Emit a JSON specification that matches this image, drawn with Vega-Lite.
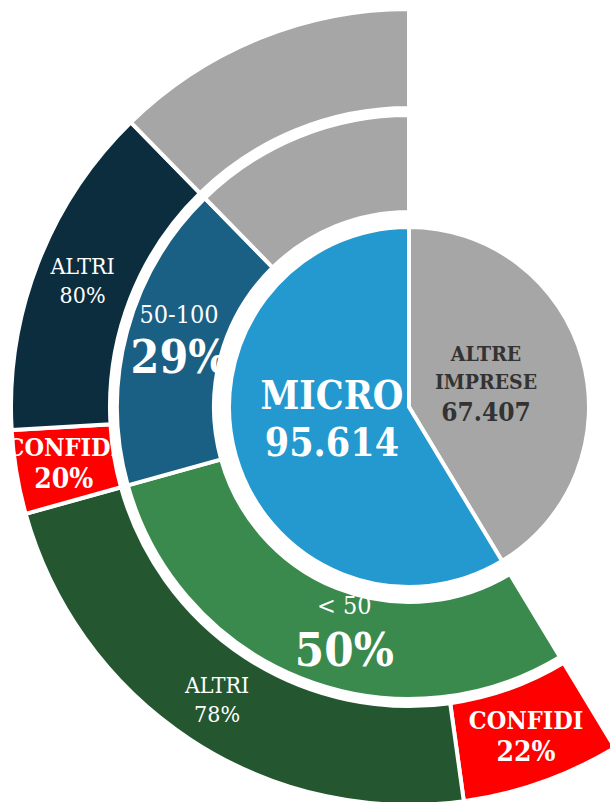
{
  "$schema": "https://vega.github.io/schema/vega-lite/v6.json",
  "width": 818,
  "height": 814,
  "autosize": {"type": "none"},
  "padding": 0,
  "background": "white",
  "config": {"view": {"stroke": null}},
  "data": {
    "values": [
      {"ring": "inner", "name": "altre", "value": 67407, "ord": 1, "l1": "ALTRE", "l2": "IMPRESE", "l3": "67.407"},
      {"ring": "inner", "name": "micro", "value": 95614, "ord": 2, "l1": "MICRO", "l2": "95.614", "l3": ""},
      {"ring": "middle", "name": "gap", "value": 67407, "ord": 1, "l1": "", "l2": "", "l3": ""},
      {"ring": "middle", "name": "m50", "value": 47807, "ord": 2, "l1": "< 50", "l2": "50%", "l3": ""},
      {"ring": "middle", "name": "m100", "value": 27728, "ord": 3, "l1": "50-100", "l2": "29%", "l3": ""},
      {"ring": "middle", "name": "mgrey", "value": 20079, "ord": 4, "l1": "", "l2": "", "l3": ""},
      {"ring": "outer", "name": "gap", "value": 67407, "ord": 1, "l1": "", "l2": "", "l3": ""},
      {"ring": "outer", "name": "o50c", "value": 10518, "ord": 2, "l1": "CONFIDI", "l2": "22%", "l3": ""},
      {"ring": "outer", "name": "o50a", "value": 37289, "ord": 3, "l1": "ALTRI", "l2": "78%", "l3": ""},
      {"ring": "outer", "name": "o100c", "value": 5546, "ord": 4, "l1": "CONFIDI", "l2": "20%", "l3": ""},
      {"ring": "outer", "name": "o100a", "value": 22182, "ord": 5, "l1": "ALTRI", "l2": "80%", "l3": ""},
      {"ring": "outer", "name": "ogrey", "value": 20079, "ord": 6, "l1": "", "l2": "", "l3": ""}
    ]
  },
  "encoding": {
    "theta": {"field": "value", "type": "quantitative", "stack": true},
    "order": {"field": "ord", "type": "quantitative"}
  },
  "layer": [
    {
      "transform": [{"filter": "datum.ring === 'inner'"}],
      "mark": {"type": "arc", "outerRadius": 180, "innerRadius": 0, "stroke": "white", "strokeWidth": 4},
      "encoding": {"color": {"field": "name", "type": "nominal", "legend": null,
        "scale": {"domain": ["altre","micro","gap","m50","m100","mgrey","o50c","o50a","o100c","o100a","ogrey"],
                  "range": ["#A6A6A6","#2399D0","rgba(0,0,0,0)","#3A8A4D","#1A6084","#A6A6A6","#FF0000","#245730","#FF0000","#0C2D3E","#A6A6A6"]}}}
    },
    {
      "transform": [{"filter": "datum.ring === 'middle'"}],
      "mark": {"type": "arc", "outerRadius": 292, "innerRadius": 195, "stroke": "white", "strokeWidth": 4},
      "encoding": {"color": {"field": "name", "type": "nominal", "legend": null}}
    },
    {
      "transform": [{"filter": "datum.ring === 'outer'"}],
      "mark": {"type": "arc", "outerRadius": 398, "innerRadius": 299, "stroke": "white", "strokeWidth": 4},
      "encoding": {"color": {"field": "name", "type": "nominal", "legend": null}}
    },
    {
      "transform": [{"filter": "datum.ring === 'inner'"}],
      "mark": {"type": "text", "radius": 80, "dy": -31, "font": "DejaVu Serif Condensed", "fontWeight": "bold", "fontSize": 39, "fill": "white"},
      "encoding": {"text": {"condition": {"test": "datum.name === 'micro'", "field": "l1", "type": "nominal"}, "value": ""}}
    },
    {
      "transform": [{"filter": "datum.ring === 'inner'"}],
      "mark": {"type": "text", "radius": 80, "dy": 16, "font": "DejaVu Serif Condensed", "fontWeight": "bold", "fontSize": 39, "fill": "white"},
      "encoding": {"text": {"condition": {"test": "datum.name === 'micro'", "field": "l2", "type": "nominal"}, "value": ""}}
    },
    {
      "transform": [{"filter": "datum.ring === 'inner'"}],
      "mark": {"type": "text", "radius": 80, "dy": -31, "font": "DejaVu Serif Condensed", "fontWeight": "bold", "fontSize": 21, "fill": "#333333"},
      "encoding": {"text": {"condition": {"test": "datum.name === 'altre'", "field": "l1", "type": "nominal"}, "value": ""}}
    },
    {
      "transform": [{"filter": "datum.ring === 'inner'"}],
      "mark": {"type": "text", "radius": 80, "dy": -3, "font": "DejaVu Serif Condensed", "fontWeight": "bold", "fontSize": 21, "fill": "#333333"},
      "encoding": {"text": {"condition": {"test": "datum.name === 'altre'", "field": "l2", "type": "nominal"}, "value": ""}}
    },
    {
      "transform": [{"filter": "datum.ring === 'inner'"}],
      "mark": {"type": "text", "radius": 80, "dy": 27, "font": "DejaVu Serif Condensed", "fontWeight": "bold", "fontSize": 26, "fill": "#333333"},
      "encoding": {"text": {"condition": {"test": "datum.name === 'altre'", "field": "l3", "type": "nominal"}, "value": ""}}
    },
    {
      "transform": [{"filter": "datum.ring === 'middle'"}],
      "mark": {"type": "text", "radius": 235, "dx": 22, "dy": -19, "font": "DejaVu Serif Condensed", "fontSize": 25, "fill": "white"},
      "encoding": {"text": {"condition": {"test": "datum.name === 'm50'", "field": "l1", "type": "nominal"}, "value": ""}}
    },
    {
      "transform": [{"filter": "datum.ring === 'middle'"}],
      "mark": {"type": "text", "radius": 235, "dx": 22, "dy": 27, "font": "DejaVu Serif Condensed", "fontWeight": "bold", "fontSize": 47, "fill": "white"},
      "encoding": {"text": {"condition": {"test": "datum.name === 'm50'", "field": "l2", "type": "nominal"}, "value": ""}}
    },
    {
      "transform": [{"filter": "datum.ring === 'middle'"}],
      "mark": {"type": "text", "radius": 235, "dx": -3, "dy": -31, "font": "DejaVu Serif Condensed", "fontSize": 25, "fill": "white"},
      "encoding": {"text": {"condition": {"test": "datum.name === 'm100'", "field": "l1", "type": "nominal"}, "value": ""}}
    },
    {
      "transform": [{"filter": "datum.ring === 'middle'"}],
      "mark": {"type": "text", "radius": 235, "dx": -3, "dy": 13, "font": "DejaVu Serif Condensed", "fontWeight": "bold", "fontSize": 46, "fill": "white"},
      "encoding": {"text": {"condition": {"test": "datum.name === 'm100'", "field": "l2", "type": "nominal"}, "value": ""}}
    },
    {
      "transform": [{"filter": "datum.ring === 'outer'"}],
      "mark": {"type": "text", "radius": 350, "dy": -16, "font": "DejaVu Serif Condensed", "fontWeight": "bold", "fontSize": 25, "fill": "white"},
      "encoding": {"text": {"condition": {"test": "datum.name === 'o50c' || datum.name === 'o100c'", "field": "l1", "type": "nominal"}, "value": ""}}
    },
    {
      "transform": [{"filter": "datum.ring === 'outer'"}],
      "mark": {"type": "text", "radius": 350, "dy": 16, "font": "DejaVu Serif Condensed", "fontWeight": "bold", "fontSize": 28, "fill": "white"},
      "encoding": {"text": {"condition": {"test": "datum.name === 'o50c' || datum.name === 'o100c'", "field": "l2", "type": "nominal"}, "value": ""}}
    },
    {
      "transform": [{"filter": "datum.ring === 'outer'"}],
      "mark": {"type": "text", "radius": 350, "dy": -14, "font": "DejaVu Serif Condensed", "fontSize": 23, "fill": "white"},
      "encoding": {"text": {"condition": {"test": "datum.name === 'o50a' || datum.name === 'o100a'", "field": "l1", "type": "nominal"}, "value": ""}}
    },
    {
      "transform": [{"filter": "datum.ring === 'outer'"}],
      "mark": {"type": "text", "radius": 350, "dy": 15, "font": "DejaVu Serif Condensed", "fontSize": 23, "fill": "white"},
      "encoding": {"text": {"condition": {"test": "datum.name === 'o50a' || datum.name === 'o100a'", "field": "l2", "type": "nominal"}, "value": ""}}
    }
  ]
}
